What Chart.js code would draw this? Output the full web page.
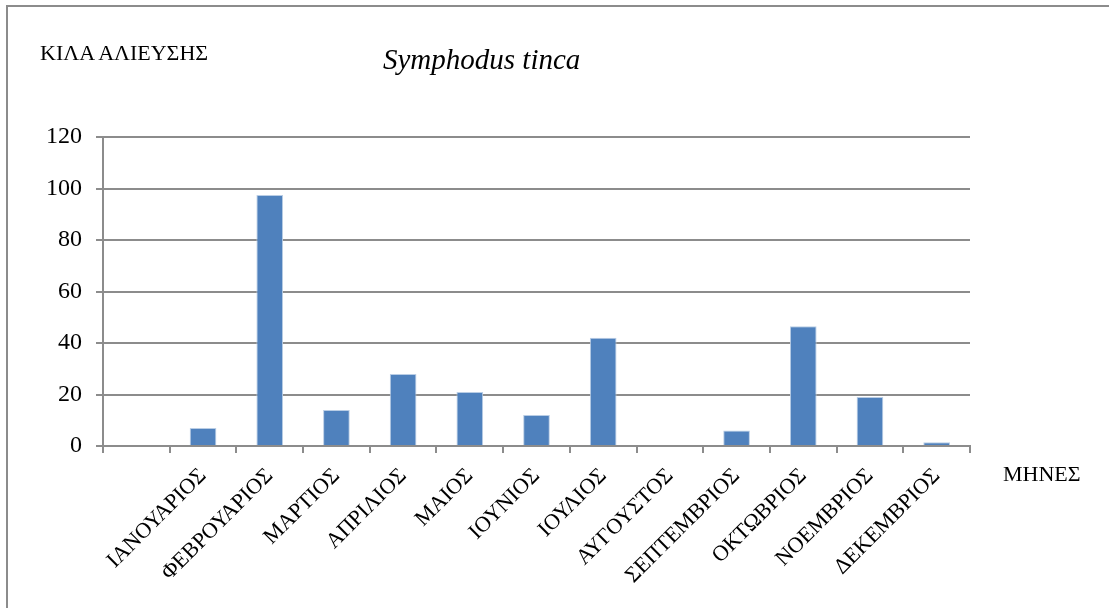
<!DOCTYPE html>
<html>
<head>
<meta charset="utf-8">
<script src="https://cdn.jsdelivr.net/npm/chart.js@4"></script>
<style>
  html, body { margin: 0; padding: 0; background: #fff; }
  #wrap { position: relative; width: 1109px; height: 608px; overflow: hidden; }
  #frame { position: absolute; left: 6px; top: 5px; width: 1200px; height: 700px;
           border-left: 2px solid #8c8c8c; border-top: 2px solid #8c8c8c; }
  canvas { position: absolute; left: 0; top: 0; }
  .txt { position: absolute; font-family: "Liberation Serif", "DejaVu Serif", serif; color: #000;
         white-space: nowrap; line-height: 1; }
</style>
</head>
<body>
<div id="wrap">
  <div id="frame"></div>
  <canvas id="c" width="1109" height="608"></canvas>
  <div class="txt" style="left:40px; top:42px; font-size:22px;">ΚΙΛΑ ΑΛΙΕΥΣΗΣ</div>
  <div class="txt" style="left:383px; top:45px; font-size:29px; font-style:italic;">Symphodus tinca</div>
  <div class="txt" style="left:1003px; top:463px; font-size:22px;">ΜΗΝΕΣ</div>
</div>
<script>
const months = ['', 'ΙΑΝΟΥΑΡΙΟΣ', 'ΦΕΒΡΟΥΑΡΙΟΣ', 'ΜΑΡΤΙΟΣ', 'ΑΠΡΙΛΙΟΣ', 'ΜΑΙΟΣ', 'ΙΟΥΝΙΟΣ',
  'ΙΟΥΛΙΟΣ', 'ΑΥΓΟΥΣΤΟΣ', 'ΣΕΠΤΕΜΒΡΙΟΣ', 'ΟΚΤΩΒΡΙΟΣ', 'ΝΟΕΜΒΡΙΟΣ', 'ΔΕΚΕΜΒΡΙΟΣ'];
const kilos = [null, 7, 97.5, 14, 28, 21, 12, 42, 0, 6, 46.5, 19, 1.5];
const yTicks = [0, 20, 40, 60, 80, 100, 120];

const grey = '#8c8c8c';
const serif = 'Liberation Serif, DejaVu Serif, serif';

new Chart(document.getElementById('c'), {
  type: 'bar',
  data: {
    labels: months,
    datasets: [{
      data: kilos,
      backgroundColor: '#4f81bd',
      borderColor: '#b9cde5',
      borderWidth: 1,
      borderSkipped: 'bottom',
      categoryPercentage: 1,
      barPercentage: 0.4
    }]
  },
  options: {
    responsive: false,
    animation: false,
    layout: { padding: { top: 137, right: 139, left: 0, bottom: 0 } },
    plugins: { legend: { display: false }, tooltip: { enabled: false } },
    scales: {
      x: {
        grid: { display: true, offset: true, drawOnChartArea: false, color: grey, lineWidth: 2, tickLength: 7 },
        border: { color: grey, width: 2 },
        ticks: {
          color: '#000',
          font: { family: serif, size: 22 },
          minRotation: 45,
          maxRotation: 45,
          autoSkip: false,
          padding: 10
        },
        afterFit: function(scale) { scale.height = 162; }
      },
      y: {
        min: 0,
        max: 120,
        afterBuildTicks: function(scale) { scale.ticks = yTicks.map(v => ({ value: v })); },
        grid: { color: grey, lineWidth: 2, tickLength: 7 },
        border: { color: grey, width: 2 },
        ticks: { color: '#000', font: { family: serif, size: 24 }, padding: 14 },
        afterFit: function(scale) { scale.width = 103; }
      }
    }
  }
});
</script>
</body>
</html>
